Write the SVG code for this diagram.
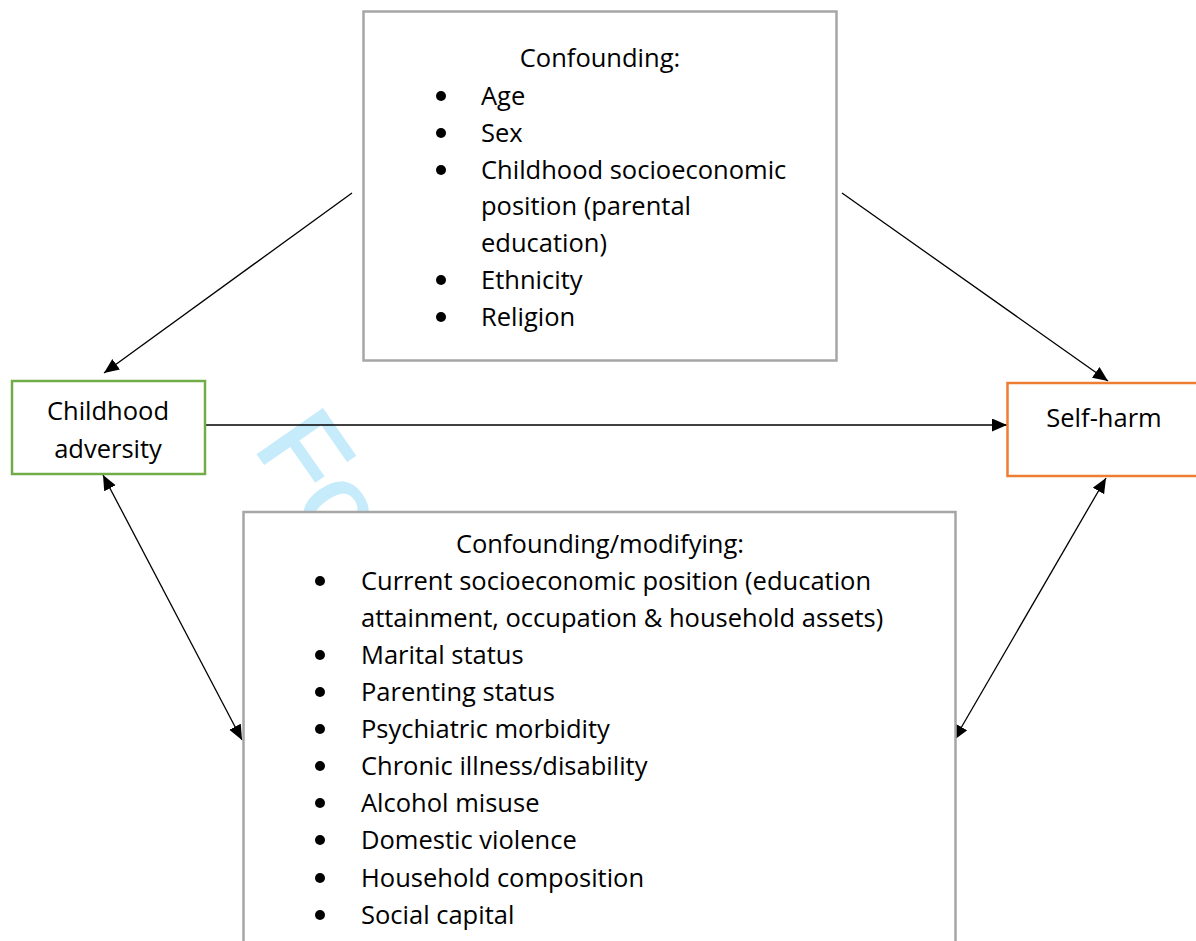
<svg xmlns="http://www.w3.org/2000/svg" width="1196" height="941" viewBox="0 0 1196 941">
<defs>
<marker id="ah" markerUnits="userSpaceOnUse" markerWidth="16" markerHeight="14" refX="15" refY="6.5" orient="auto-start-reverse">
<path d="M0,0 L15,6.5 L0,13 z" fill="#000"/>
</marker>
<style>
text{font-family:"Open Sans","Liberation Sans",sans-serif;font-size:25.5px;fill:#000}
.c{text-anchor:middle}
.box{fill:#fff;stroke:#a6a6a6;stroke-width:2.5}
.conn{stroke:#000;stroke-width:1.3;fill:none;marker-end:url(#ah)}
.both{marker-start:url(#ah)}
.wm{font-family:"Liberation Sans",Arial,sans-serif;font-size:114px;fill:#c6ebfb;stroke:#c6ebfb;stroke-width:2.5}
</style>
</defs>
<rect width="1196" height="941" fill="#fff"/>
<text class="wm" transform="translate(253,447) rotate(55)">Fo</text>
<g id="connectors">
<line class="conn" x1="352" y1="193" x2="104" y2="373"/>
<line class="conn" x1="842" y1="193" x2="1108" y2="381"/>
<line class="conn" x1="205" y1="425" x2="1007" y2="425"/>
<line class="conn both" x1="103" y1="475" x2="242" y2="740"/>
<line class="conn both" x1="1106" y1="478" x2="954" y2="740"/>
</g>
<g id="confounding">
<rect class="box" x="363.5" y="11.5" width="473" height="349"/>
<text class="c" x="600" y="67">Confounding:</text>
<g id="conf-bullets" fill="#000">
<circle cx="441" cy="96" r="5"/><circle cx="441" cy="133" r="5"/><circle cx="441" cy="170" r="5"/><circle cx="441" cy="280" r="5"/><circle cx="441" cy="317" r="5"/>
</g>
<text x="481" y="105">Age</text>
<text x="481" y="142">Sex</text>
<text x="481" y="179">Childhood socioeconomic</text>
<text x="481" y="215">position (parental</text>
<text x="481" y="252">education)</text>
<text x="481" y="289">Ethnicity</text>
<text x="481" y="326">Religion</text>
</g>
<g id="childhood-adversity">
<rect x="12" y="381" width="193" height="93" fill="#fff" stroke="#70ad47" stroke-width="2.5"/>
<text class="c" x="108" y="420">Childhood</text>
<text class="c" x="108" y="458">adversity</text>
</g>
<g id="self-harm">
<rect x="1007.5" y="383" width="200" height="93" fill="#fff" stroke="#ed7d31" stroke-width="2.5"/>
<text class="c" x="1104" y="427">Self-harm</text>
</g>
<g id="confounding-modifying">
<rect class="box" x="243.5" y="512" width="712" height="440"/>
<text class="c" x="600" y="553">Confounding/modifying:</text>
<g id="mod-bullets" fill="#000">
<circle cx="320" cy="581" r="5"/><circle cx="320" cy="655" r="5"/><circle cx="320" cy="692" r="5"/><circle cx="320" cy="729" r="5"/><circle cx="320" cy="766" r="5"/><circle cx="320" cy="803" r="5"/><circle cx="320" cy="840" r="5"/><circle cx="320" cy="878" r="5"/><circle cx="320" cy="915" r="5"/>
</g>
<text x="361" y="590">Current socioeconomic position (education</text>
<text x="361" y="627">attainment, occupation &amp; household assets)</text>
<text x="361" y="664">Marital status</text>
<text x="361" y="701">Parenting status</text>
<text x="361" y="738">Psychiatric morbidity</text>
<text x="361" y="775">Chronic illness/disability</text>
<text x="361" y="812">Alcohol misuse</text>
<text x="361" y="849">Domestic violence</text>
<text x="361" y="887">Household composition</text>
<text x="361" y="924">Social capital</text>
</g>
</svg>
